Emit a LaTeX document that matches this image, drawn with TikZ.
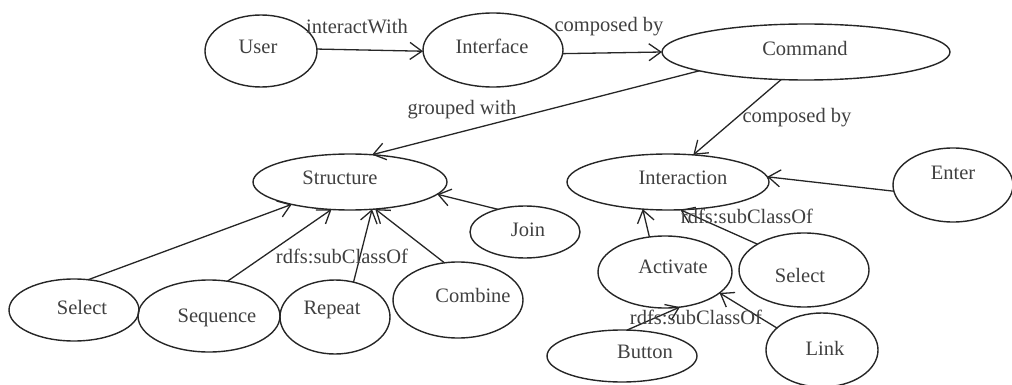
\documentclass[tikz,border=0pt]{standalone}
\usepackage{fontspec}
\newfontfamily\conceptfont{Liberation Serif}
\usetikzlibrary{shapes.geometric,arrows.meta}
\begin{document}
\begin{tikzpicture}[x=1pt,y=-1pt,
  ent/.style={ellipse, draw=black!85, line width=1.4pt, inner sep=0pt, outer sep=0pt},
  txt/.style={text=black!75, font=\conceptfont\fontsize{20.5}{24}\selectfont, inner sep=0pt},
  rel/.style={draw=black!85, line width=1.3pt, -{Straight Barb[length=12pt,width=17pt,line width=1.3pt]}},
  lab/.style={txt}]
\useasboundingbox (0,0) rectangle (1012,385);
% concept ellipses
\node[ent, minimum width=112pt, minimum height=72pt] (user) at (261,51) {};
\node[ent, minimum width=140pt, minimum height=74pt] (iface) at (493,50) {};
\node[ent, minimum width=288pt, minimum height=56pt] (cmd) at (806,52) {};
\node[ent, minimum width=194pt, minimum height=56pt] (struct) at (350,182) {};
\node[ent, minimum width=202pt, minimum height=56pt] (inter) at (668,182) {};
\node[ent, minimum width=120pt, minimum height=74pt] (enter) at (953,185) {};
\node[ent, minimum width=110pt, minimum height=52pt] (join) at (525,232) {};
\node[ent, minimum width=130pt, minimum height=74pt] (selr) at (804,270) {};
\node[ent, minimum width=134pt, minimum height=72pt] (act) at (665,272) {};
\node[ent, minimum width=150pt, minimum height=52pt] (button) at (622,356) {};
\node[ent, minimum width=112pt, minimum height=74pt] (link) at (822,350) {};
\node[ent, minimum width=130pt, minimum height=62pt] (sell) at (74,310) {};
\node[ent, minimum width=142pt, minimum height=72pt] (seq) at (209,316) {};
\node[ent, minimum width=110pt, minimum height=74pt] (rep) at (335,317) {};
\node[ent, minimum width=130pt, minimum height=76pt] (comb) at (458,300) {};
% concept names
\node[txt] (tuser) at (258,47) {User};
\node[txt] (tiface) at (492,46) {Interface};
\node[txt] (tcmd) at (805,48) {Command};
\node[txt] (tstruct) at (340,178) {Structure};
\node[txt] (tinter) at (683,178) {Interaction};
\node[txt] (tenter) at (953,173) {Enter};
\node[txt] (tjoin) at (528,230) {Join};
\node[txt] (tselr) at (800,275) {Select};
\node[txt] (tact) at (673,267) {Activate};
\node[txt] (tbutton) at (645,352) {Button};
\node[txt] (tlink) at (825,348) {Link};
\node[txt] (tsell) at (82,307) {Select};
\node[txt] (tseq) at (217,318) {Sequence};
\node[txt] (trep) at (332,310) {Repeat};
\node[txt] (tcomb) at (473,295) {Combine};
% relations
\draw[rel] (user.2) -- (iface.181);
\draw[rel] (iface.-3) -- (cmd.west);
\draw[rel] (cmd.190) -- (struct.51);
\draw[rel] (cmd.228) -- (inter.47);
\draw[rel] (enter.186.5) -- (inter.3);
\draw[rel] (selr.151) -- (inter.-66.5);
\draw[rel] (act.114) -- (inter.227);
\draw[rel] (button.79) -- (act.-67);
\draw[rel] (link.154.5) -- (act.-21.6);
\draw[rel] (join.140) -- (struct.-8.5);
\draw[rel] (sell.65.7) -- (struct.201);
\draw[rel] (seq.62) -- (struct.236);
\draw[rel] (rep.62.8) -- (struct.-51.6);
\draw[rel] (comb.110) -- (struct.-47);
% relation labels
\node[lab] (l1) at (357,27) {interactWith};
\node[lab] (l2) at (609,27) {composed by};
\node[lab] (l3) at (462,110) {grouped with};
\node[lab] (l4) at (797,118) {composed by};
\node[lab] (l5) at (747,216) {rdfs:subClassOf};
\node[lab] (l6) at (696,317) {rdfs:subClassOf};
\node[lab] (l7) at (342,256) {rdfs:subClassOf};
\end{tikzpicture}
\end{document}
